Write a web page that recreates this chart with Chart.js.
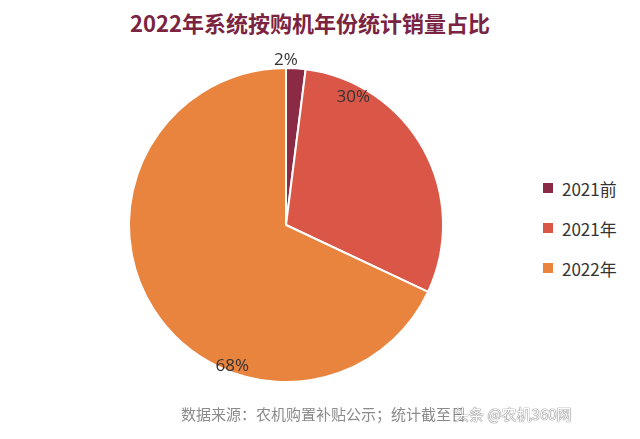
<!DOCTYPE html>
<html>
<head>
<meta charset="utf-8">
<script src="https://cdn.jsdelivr.net/npm/chart.js@4/dist/chart.umd.min.js"></script>
<style>
  body { margin: 0; background: #fff; width: 640px; height: 439px; overflow: hidden; position: relative; font-family: "Noto Sans CJK SC", "Noto Sans", sans-serif; }
  #title { position: absolute; left: 0; width: 620px; top: 6px; text-align: center; font-size: 22px; font-weight: bold; color: #7a2442; }
  #wrap { position: absolute; left: 96px; top: 35px; width: 380px; height: 380px; }
  #legend { position: absolute; left: 543px; top: 168px; }
  #legend div { height: 40px; font-size: 17px; color: #333; display: flex; align-items: center; }
  #legend span.box { display: inline-block; width: 10px; height: 10px; margin-right: 9px; }
  #foot { position: absolute; left: 181px; top: 403px; font-size: 15px; color: #8a8a8a; white-space: nowrap; }
  #foot b { font-weight: normal; color: #fff; text-shadow: 0 0 1px #555, 0 0 1px #555; margin-left: -12px; }
</style>
</head>
<body>
<div id="title">2022年系统按购机年份统计销量占比</div>
<div id="wrap"><canvas id="pie" width="380" height="380"></canvas></div>
<div id="legend"></div>
<div id="foot">数据来源：农机购置补贴公示；统计截至日<b>头条 @农机360网</b></div>
<script>
// categories and shares (%)
var categories = ['2021前', '2021年', '2022年']
var shares = [2, 30, 68]
var colors = ['#8b2a44', '#da5747', '#e9843f']

// where each percentage label sits: fraction along the slice, and radius factor
var labelSpots = [
  { frac: 0.0, r: 1.05 },
  { frac: 0.19, r: 0.92 },
  { frac: 0.35, r: 0.96 }
]

// html legend from the arrays
var legendEl = document.getElementById('legend')
categories.forEach(function (name, i) {
  var row = document.createElement('div')
  row.innerHTML = '<span class="box" style="background:' + colors[i] + '"></span>' + name
  legendEl.appendChild(row)
})

var pctLabels = {
  id: 'pctLabels',
  afterDatasetsDraw: function (chart) {
    var ctx = chart.ctx
    var meta = chart.getDatasetMeta(0)
    ctx.save()
    ctx.font = '17px "Open Sans", "Noto Sans", sans-serif'
    ctx.fillStyle = '#333'
    ctx.textAlign = 'center'
    ctx.textBaseline = 'middle'
    meta.data.forEach(function (arc, i) {
      var p = arc.getProps(['x', 'y', 'startAngle', 'endAngle', 'outerRadius'], true)
      var a = p.startAngle + (p.endAngle - p.startAngle) * labelSpots[i].frac
      var r = p.outerRadius * labelSpots[i].r
      ctx.fillText(shares[i] + '%', p.x + Math.cos(a) * r, p.y + Math.sin(a) * r)
    })
    ctx.restore()
  }
}

new Chart(document.getElementById('pie'), {
  type: 'pie',
  data: {
    labels: categories,
    datasets: [{
      data: shares,
      backgroundColor: colors,
      borderColor: '#fff',
      borderWidth: 2,
      hoverOffset: 0
    }]
  },
  options: {
    responsive: false,
    animation: false,
    layout: { padding: 32 },
    plugins: {
      legend: { display: false },
      tooltip: { enabled: false }
    }
  },
  plugins: [pctLabels]
})
</script>
</body>
</html>
